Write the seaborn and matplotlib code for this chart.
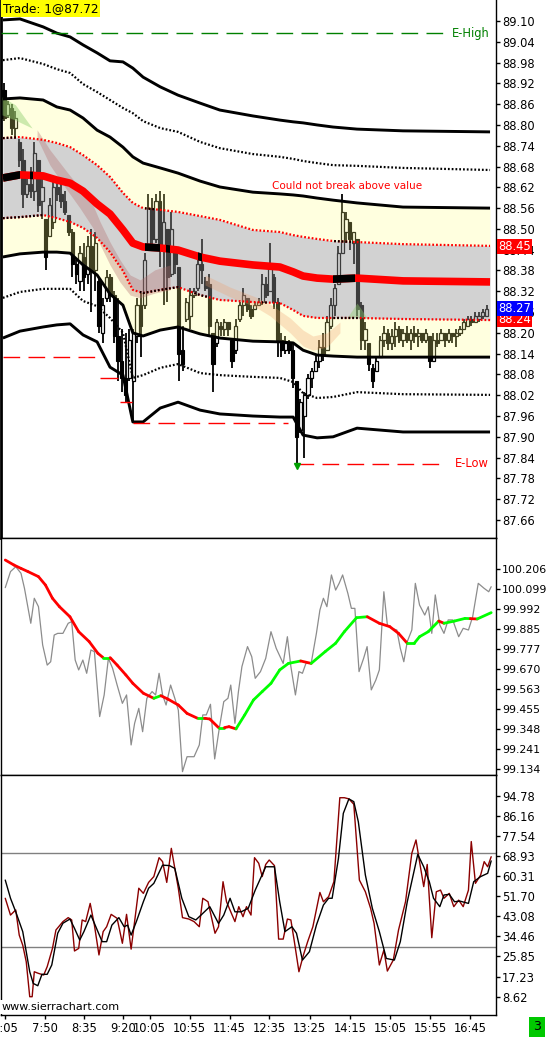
import numpy as np
import matplotlib
matplotlib.use("Agg")
import matplotlib.pyplot as plt
import seaborn as sns
from matplotlib.patches import Rectangle
from matplotlib.collections import LineCollection
from matplotlib.transforms import blended_transform_factory

sns.set_theme(style="white")
plt.rcParams['font.family'] = ['DejaVu Sans']

# ---------------- price candles (one per bar) ----------------
opens = [88.90, 88.83, 88.85, 88.79, 88.75, 88.70, 88.60, 88.63, 88.61, 88.70,
         88.58, 88.53, 88.48, 88.52, 88.62, 88.60, 88.58, 88.54, 88.49, 88.40,
         88.35, 88.42, 88.37, 88.45, 88.38, 88.35, 88.20, 88.30, 88.36, 88.31,
         88.19, 88.12, 88.07, 88.07, 88.06, 88.19, 88.28, 88.28, 88.45, 88.56,
         88.47, 88.58, 88.45, 88.50, 88.37, 88.44, 88.39, 88.15, 88.24, 88.25,
         88.31, 88.33, 88.40, 88.35, 88.34, 88.20, 88.17, 88.22, 88.21, 88.23,
         88.18, 88.15, 88.24, 88.28, 88.30, 88.27, 88.27, 88.28, 88.29, 88.34,
         88.32, 88.36, 88.29, 88.18, 88.15, 88.17, 88.15, 88.06, 87.92, 87.96,
         88.02, 88.07, 88.09, 88.12, 88.16, 88.15, 88.22, 88.28, 88.34, 88.43,
         88.49, 88.52, 88.46, 88.47, 88.28, 88.18, 88.17, 88.10, 88.09, 88.13,
         88.18, 88.20, 88.17, 88.19, 88.21, 88.18, 88.20, 88.18, 88.20, 88.19,
         88.20, 88.18, 88.19, 88.12, 88.18, 88.18, 88.20, 88.18, 88.20, 88.19,
         88.20, 88.21, 88.22, 88.24, 88.23, 88.24, 88.25, 88.25]
highs = [88.92, 88.87, 88.86, 88.84, 88.76, 88.73, 88.65, 88.68, 88.75, 88.70,
         88.66, 88.53, 88.59, 88.64, 88.64, 88.63, 88.61, 88.54, 88.50, 88.41,
         88.45, 88.46, 88.48, 88.50, 88.49, 88.36, 88.30, 88.38, 88.37, 88.32,
         88.30, 88.21, 88.20, 88.21, 88.21, 88.30, 88.32, 88.43, 88.60, 88.59,
         88.60, 88.61, 88.60, 88.50, 88.55, 88.45, 88.39, 88.22, 88.30, 88.33,
         88.33, 88.43, 88.47, 88.36, 88.37, 88.20, 88.24, 88.23, 88.24, 88.23,
         88.18, 88.24, 88.29, 88.33, 88.30, 88.28, 88.29, 88.30, 88.37, 88.36,
         88.46, 88.37, 88.30, 88.20, 88.19, 88.18, 88.17, 88.06, 88.01, 88.03,
         88.08, 88.10, 88.14, 88.18, 88.20, 88.25, 88.30, 88.34, 88.45, 88.60,
         88.55, 88.52, 88.49, 88.47, 88.29, 88.23, 88.17, 88.11, 88.13, 88.19,
         88.22, 88.21, 88.21, 88.23, 88.22, 88.21, 88.22, 88.21, 88.22, 88.21,
         88.20, 88.21, 88.19, 88.20, 88.20, 88.21, 88.20, 88.21, 88.20, 88.21,
         88.22, 88.24, 88.25, 88.25, 88.26, 88.26, 88.27, 88.28]
lows = [88.81, 88.82, 88.77, 88.76, 88.68, 88.56, 88.59, 88.59, 88.58, 88.55,
        88.53, 88.38, 88.48, 88.50, 88.58, 88.56, 88.54, 88.48, 88.36, 88.34,
        88.32, 88.32, 88.34, 88.26, 88.32, 88.20, 88.17, 88.29, 88.29, 88.17,
        88.06, 88.03, 88.00, 88.06, 87.94, 88.17, 88.13, 88.27, 88.45, 88.44,
        88.46, 88.39, 88.28, 88.29, 88.36, 88.37, 88.06, 88.09, 88.23, 88.21,
        88.30, 88.32, 88.34, 88.32, 88.19, 88.03, 88.16, 88.19, 88.19, 88.19,
        88.10, 88.14, 88.23, 88.25, 88.26, 88.24, 88.27, 88.28, 88.28, 88.30,
        88.32, 88.27, 88.13, 88.13, 88.14, 88.14, 88.04, 87.82, 87.91, 87.84,
        88.01, 88.04, 88.09, 88.10, 88.12, 88.15, 88.21, 88.25, 88.34, 88.43,
        88.46, 88.44, 88.40, 88.25, 88.15, 88.15, 88.09, 88.04, 88.09, 88.13,
        88.16, 88.15, 88.15, 88.16, 88.17, 88.16, 88.17, 88.15, 88.17, 88.16,
        88.17, 88.17, 88.10, 88.12, 88.16, 88.18, 88.16, 88.17, 88.17, 88.16,
        88.19, 88.21, 88.22, 88.22, 88.23, 88.23, 88.24, 88.25]
closes = [88.82, 88.86, 88.79, 88.82, 88.70, 88.60, 88.63, 88.61, 88.72, 88.57,
          88.62, 88.42, 88.57, 88.62, 88.60, 88.58, 88.55, 88.49, 88.40, 88.37,
          88.43, 88.36, 88.45, 88.38, 88.46, 88.22, 88.28, 88.36, 88.31, 88.19,
          88.12, 88.07, 88.02, 88.18, 88.20, 88.28, 88.22, 88.41, 88.56, 88.47,
          88.58, 88.45, 88.52, 88.36, 88.50, 88.40, 88.14, 88.11, 88.29, 88.31,
          88.32, 88.40, 88.38, 88.33, 88.22, 88.11, 88.23, 88.21, 88.23, 88.21,
          88.12, 88.22, 88.28, 88.31, 88.27, 88.25, 88.28, 88.29, 88.34, 88.31,
          88.40, 88.29, 88.18, 88.15, 88.17, 88.15, 88.07, 87.90, 88.00, 88.02,
          88.07, 88.09, 88.12, 88.16, 88.14, 88.23, 88.28, 88.33, 88.43, 88.55,
          88.53, 88.47, 88.49, 88.27, 88.18, 88.21, 88.11, 88.06, 88.12, 88.18,
          88.20, 88.17, 88.19, 88.21, 88.18, 88.20, 88.18, 88.20, 88.19, 88.20,
          88.18, 88.20, 88.12, 88.18, 88.17, 88.20, 88.18, 88.20, 88.19, 88.20,
          88.21, 88.23, 88.24, 88.23, 88.25, 88.25, 88.26, 88.27]

# ---------------- VWAP / deviation bands (knots in bar units) ----------------
band_x = [-0.3, 4.2, 10.3, 13.9, 17.4, 20.8, 24.5, 27.9, 31.3, 33.9, 36.6, 41.1,
          45.8, 51.6, 56.8, 65.5, 72.6, 76.1, 78.7, 82.4, 86.6, 92.9, 105.0, 127.9]
up3 = [89.103, 89.106, 89.083, 89.065, 89.054, 89.031, 89.008, 88.985, 88.982, 88.964, 88.938, 88.910,
       88.886, 88.863, 88.843, 88.826, 88.814, 88.809, 88.806, 88.800, 88.794, 88.788, 88.783, 88.780]
up2dot = [88.987, 88.993, 88.976, 88.961, 88.950, 88.918, 88.895, 88.872, 88.849, 88.834, 88.811, 88.791,
          88.780, 88.751, 88.733, 88.716, 88.708, 88.702, 88.696, 88.690, 88.684, 88.682, 88.676, 88.670]
up2 = [88.875, 88.878, 88.872, 88.852, 88.843, 88.820, 88.785, 88.765, 88.736, 88.708, 88.690, 88.676,
       88.661, 88.638, 88.621, 88.606, 88.601, 88.598, 88.595, 88.589, 88.583, 88.575, 88.563, 88.560]
up1 = [88.762, 88.765, 88.757, 88.748, 88.736, 88.713, 88.684, 88.650, 88.604, 88.575, 88.560, 88.555,
       88.549, 88.537, 88.526, 88.497, 88.491, 88.482, 88.477, 88.471, 88.465, 88.462, 88.456, 88.451]
vwap = [88.647, 88.656, 88.653, 88.641, 88.632, 88.609, 88.572, 88.543, 88.497, 88.459, 88.448, 88.445,
        88.439, 88.419, 88.407, 88.396, 88.390, 88.376, 88.364, 88.358, 88.355, 88.358, 88.350, 88.347]
lo1 = [88.531, 88.534, 88.540, 88.531, 88.520, 88.503, 88.474, 88.433, 88.379, 88.324, 88.315, 88.324,
       88.332, 88.309, 88.295, 88.289, 88.286, 88.266, 88.249, 88.243, 88.243, 88.243, 88.240, 88.237]
lo2 = [88.419, 88.428, 88.433, 88.433, 88.430, 88.396, 88.367, 88.312, 88.280, 88.200, 88.191, 88.208,
       88.217, 88.197, 88.185, 88.176, 88.174, 88.171, 88.150, 88.136, 88.133, 88.130, 88.130, 88.130]
lo2dot = [88.301, 88.318, 88.327, 88.327, 88.327, 88.292, 88.277, 88.243, 88.200, 88.070, 88.078, 88.099,
          88.110, 88.084, 88.078, 88.073, 88.070, 88.058, 88.026, 88.012, 88.015, 88.029, 88.023, 88.021]
lo3 = [88.185, 88.205, 88.217, 88.223, 88.226, 88.194, 88.174, 88.101, 88.078, 87.943, 87.943, 87.983,
       88.000, 87.977, 87.966, 87.960, 87.957, 87.957, 87.905, 87.897, 87.900, 87.925, 87.914, 87.914]

vwap_black = [(-0.8, 4.2), (6.8, 7.6), (37.1, 41.1), (42.6, 43.7), (51.0, 52.1), (86.6, 92.4)]
up1_black = [(-0.8, 3.5), (37.1, 39.7), (86.6, 91.8)]
lo1_black = [(-0.8, 10.3), (35.8, 46.3), (49.7, 53.4), (68.0, 69.2), (86.6, 93.7)]

# shaded cloud regions
pink_x = [8.7, 12.1, 16.6, 20.0, 23.4, 25.3, 27.9, 30.5, 33.2, 35.8, 39.7, 43.7]
pink_hi = [88.786, 88.728, 88.664, 88.618, 88.569, 88.520, 88.462, 88.411, 88.367, 88.353, 88.382, 88.396]
pink_lo = [88.762, 88.684, 88.612, 88.560, 88.503, 88.454, 88.396, 88.347, 88.309, 88.301, 88.315, 88.324]
peach_x = [52.9, 59.5, 66.1, 70.0, 75.3, 78.7, 81.3, 85.0, 88.4]
peach_hi = [88.367, 88.332, 88.304, 88.283, 88.243, 88.208, 88.191, 88.200, 88.231]
peach_lo = [88.338, 88.304, 88.275, 88.249, 88.200, 88.162, 88.150, 88.159, 88.200]
green1_x = [-0.5, 3.0, 7.4]
green1_hi = [88.881, 88.858, 88.791]
green1_lo = [88.829, 88.814, 88.791]
green2_x = [90.3, 92.9, 95.5]
green2_hi = [88.244, 88.286, 88.244]
green2_lo = [88.244, 88.244, 88.244]

# ---------------- middle panel ----------------
osc_x = [0.33, 1.71, 3.09, 4.47, 5.39, 7.05, 7.97, 9.07, 10.17, 11.37, 12.29, 13.21, 14.13, 15.51,
         16.89, 17.81, 18.73, 19.65, 20.75, 21.76, 22.87, 23.79, 25.17, 26.36, 27.47, 28.57, 29.77,
         31.15, 32.25, 33.45, 34.37, 35.47, 36.48, 37.59, 38.97, 39.89, 40.81, 41.73, 42.65, 43.84,
         44.95, 45.87, 46.97, 48.17, 50.01, 51.39, 52.31, 53.23, 54.33, 55.44, 56.72, 57.83, 58.93,
         59.67, 60.77, 61.69, 62.61, 64.08, 65.19, 66.11, 67.49, 68.87, 70.25, 71.63, 73.47, 74.57,
         75.49, 76.69, 77.61, 78.53, 79.45, 80.83, 82.21, 83.13, 84.05, 84.97, 86.16, 87.27, 88.19,
         89.11, 90.49, 91.41, 92.33, 93.43, 94.63, 95.55, 96.65, 97.85, 98.77, 99.96, 100.88, 101.98,
         103.37, 104.29, 105.21, 106.12, 107.32, 108.24, 109.35, 110.72, 111.65, 112.57, 113.49,
         114.68, 115.78, 116.89, 118.08, 119.65, 120.84, 122.22, 123.33, 124.80, 126.36, 127.56, 128.2]
osc_val = [100.106, 100.192, 100.218, 100.183, 100.102, 99.915, 100.049, 100.004, 99.799, 99.691,
           99.709, 99.852, 99.861, 99.861, 99.915, 99.924, 99.718, 99.665, 99.718, 99.647, 99.772,
           99.763, 99.415, 99.531, 99.727, 99.674, 99.584, 99.486, 99.531, 99.263, 99.379, 99.459,
           99.334, 99.513, 99.549, 99.531, 99.647, 99.531, 99.477, 99.584, 99.513, 99.450, 99.120,
           99.200, 99.200, 99.263, 99.424, 99.424, 99.481, 99.188, 99.361, 99.495, 99.513, 99.584,
           99.379, 99.549, 99.683, 99.790, 99.736, 99.620, 99.656, 99.727, 99.870, 99.781, 99.700,
           99.843, 99.683, 99.531, 99.656, 99.647, 99.700, 99.700, 99.861, 99.986, 100.049, 100.004,
           100.174, 100.093, 100.129, 100.174, 100.075, 99.995, 99.995, 99.656, 99.727, 99.790, 99.558,
           99.611, 99.665, 100.084, 99.906, 99.888, 99.879, 99.781, 99.709, 99.817, 99.879, 100.129,
           100.013, 99.959, 100.004, 99.861, 100.067, 99.906, 99.861, 99.933, 99.933, 99.843, 99.888,
           99.879, 99.950, 100.129, 100.102, 100.084, 100.111]
ma_x = [0.33, 2.63, 4.47, 6.31, 9.07, 10.91, 12.75, 14.59, 17.35, 19.65, 22.41, 24.71, 26.09, 27.93,
        29.77, 32.07, 33.91, 36.67, 39.43, 41.27, 43.11, 45.87, 48.17, 50.93, 52.77, 54.15, 56.45,
        58.0, 59.21, 61.05, 63.35, 65.65, 67.95, 70.25, 72.55, 74.85, 78.07, 80.83, 84.51, 87.27,
        89.56, 92.78, 95.6, 98.77, 101.52, 103.82, 106.12, 107.96, 109.35, 111.65, 114.41, 115.78,
        118.55, 121.30, 122.7, 124.52, 128.2]
ma_val = [100.254, 100.227, 100.209, 100.192, 100.165, 100.120, 100.049, 100.004, 99.950, 99.870,
          99.817, 99.754, 99.731, 99.731, 99.691, 99.638, 99.593, 99.540, 99.513, 99.527, 99.509,
          99.477, 99.432, 99.406, 99.406, 99.402, 99.356, 99.356, 99.361, 99.349, 99.424, 99.504,
          99.549, 99.593, 99.665, 99.700, 99.713, 99.700, 99.763, 99.808, 99.870, 99.945, 99.950,
          99.915, 99.897, 99.861, 99.808, 99.808, 99.843, 99.870, 99.927, 99.915, 99.927, 99.941,
          99.940, 99.938, 99.972]
ma_dir = ['r'] * 12 + ['g', 'r', 'r', 'r', 'r', 'r', 'g', 'r', 'r', 'r', 'r', 'g', 'r', 'r', 'g', 'r',
          'r'] + ['g'] * 6 + ['g', 'r'] + ['g'] * 5 + ['r', 'r', 'r', 'r'] + ['g'] * 4 + ['r', 'g', 'g',
          'g', 'r', 'g', 'g']

# ---------------- stochastic panel ----------------
stk_x = [0.33, 1.71, 3.09, 4.01, 4.93, 5.85, 6.77, 7.41, 7.97, 9.07, 10.45, 11.37, 12.75, 13.67, 15.51,
         16.89, 17.81, 18.55, 19.65, 20.57, 21.49, 22.68, 23.79, 24.99, 26.09, 27.01, 28.20, 29.77,
         31.15, 32.25, 33.45, 34.37, 35.47, 36.67, 38.05, 39.43, 40.81, 41.73, 42.83, 44.03, 44.95,
         45.87, 46.97, 48.63, 50.01, 51.39, 52.31, 53.69, 55.53, 56.45, 57.64, 58.56, 59.67, 60.77,
         61.78, 62.89, 63.81, 65.0, 65.92, 67.03, 67.95, 68.87, 69.79, 71.17, 72.27, 73.47, 74.57,
         75.49, 76.41, 77.61, 78.80, 79.91, 81.28, 83.13, 84.05, 85.43, 86.81, 88.37, 89.57, 90.76,
         92.05, 93.52, 95.09, 96.47, 97.39, 98.77, 99.96, 100.88, 102.44, 103.82, 105.66, 107.32,
         108.42, 109.35, 110.45, 111.37, 112.57, 113.76, 114.87, 115.78, 117.17, 118.36, 119.65,
         120.84, 122.22, 122.96, 124.06, 125.44, 126.36, 127.28, 128.2]
stk_k = [50.8, 43.6, 45.8, 35.0, 30.7, 23.6, 8.6, 8.6, 19.3, 18.6, 17.9, 21.5, 29.3, 37.2, 40.8, 42.5,
         41.5, 28.2, 29.3, 41.5, 40.8, 48.6, 39.3, 26.5, 36.5, 38.6, 43.9, 42.2, 31.5, 43.9, 29.0, 40.8,
         55.1, 52.9, 57.6, 60.1, 68.2, 66.5, 57.6, 72.2, 63.6, 55.1, 42.5, 41.9, 40.8, 38.6, 50.8, 49.3,
         35.8, 38.6, 57.9, 49.3, 45.0, 40.8, 47.2, 42.9, 47.2, 43.6, 68.2, 65.8, 60.1, 65.3, 67.2, 64.8,
         33.3, 33.3, 41.9, 41.5, 32.2, 19.3, 26.5, 32.2, 38.6, 53.3, 49.3, 51.5, 57.9, 93.9, 93.9, 93.4,
         91.1, 58.6, 53.6, 46.5, 40.0, 22.2, 28.6, 19.6, 24.3, 37.2, 49.3, 70.1, 75.8, 66.5, 55.8, 65.3,
         33.9, 53.6, 54.3, 50.8, 52.9, 47.2, 50.0, 47.2, 54.3, 75.1, 57.2, 60.8, 66.5, 64.3, 68.6]
std_x = [0.33, 1.71, 3.09, 4.93, 6.77, 7.69, 8.89, 9.99, 11.37, 12.57, 14.13, 15.51, 17.35, 18.55,
         19.93, 21.03, 22.87, 24.71, 25.82, 27.01, 28.39, 30.23, 31.61, 32.53, 33.45, 34.83, 36.67,
         38.05, 39.43, 41.73, 43.57, 44.95, 46.79, 48.63, 50.47, 51.85, 54.15, 56.45, 57.83, 59.49,
         60.77, 62.43, 64.27, 66.11, 68.87, 71.17, 72.55, 73.93, 75.77, 76.97, 78.53, 80.37, 82.21,
         84.05, 85.43, 86.35, 88.01, 89.29, 90.76, 92.05, 93.24, 95.09, 96.93, 98.77, 100.61, 102.72,
         104.29, 106.12, 108.88, 110.45, 111.92, 113.03, 114.68, 115.78, 117.17, 118.55, 119.93,
         122.22, 123.60, 125.44, 126.36, 127.28, 128.2]
std_d = [58.6, 50.8, 45.0, 36.5, 19.3, 14.3, 13.3, 18.2, 18.2, 22.2, 35.8, 40.1, 41.9, 37.9, 32.9,
         36.5, 43.6, 36.5, 32.2, 32.2, 39.3, 42.5, 38.6, 39.3, 35.0, 40.8, 49.3, 55.1, 57.2, 65.0, 64.8,
         63.6, 50.8, 42.9, 41.5, 43.6, 47.2, 40.0, 43.6, 50.8, 45.0, 45.0, 46.5, 54.3, 64.3, 64.3, 49.3,
         36.5, 38.6, 35.8, 24.3, 27.9, 39.3, 47.9, 50.8, 50.8, 67.9, 87.2, 93.4, 92.2, 83.6, 60.8, 46.5,
         36.5, 25.0, 24.3, 32.2, 49.3, 69.6, 64.3, 57.9, 50.8, 47.2, 52.2, 52.5, 49.3, 49.6, 48.6, 57.9,
         60.1, 60.8, 61.5, 66.8]

time_ticks = [0.3, 10.7, 21.0, 31.4, 38.3, 48.9, 59.4, 69.8, 80.4, 91.0, 101.6, 112.1, 122.7]
time_labels = ['7:05', '7:50', '8:35', '9:20', '10:05', '10:55', '11:45', '12:35', '13:25',
               '14:15', '15:05', '15:55', '16:45']
price_ticks = [89.10, 89.04, 88.98, 88.92, 88.86, 88.80, 88.74, 88.68, 88.62, 88.56, 88.50, 88.44,
               88.38, 88.32, 88.26, 88.20, 88.14, 88.08, 88.02, 87.96, 87.90, 87.84, 87.78, 87.72, 87.66]
osc_ticks = [100.206, 100.099, 99.992, 99.885, 99.777, 99.670, 99.563, 99.455, 99.348, 99.241, 99.134]
stoch_ticks = [94.78, 86.16, 77.54, 68.93, 60.31, 51.70, 43.08, 34.46, 25.85, 17.23, 8.62]

# ---------------- layout ----------------
W, H = 547, 1037
fig = plt.figure(figsize=(W / 100, H / 100), dpi=100)
fig.patch.set_facecolor('white')


def axpos(x0, y0, x1, y1):
    return [x0 / W, 1 - y1 / H, (x1 - x0) / W, (y1 - y0) / H]


ax1 = fig.add_axes(axpos(1, 0, 496, 538))
ax2 = fig.add_axes(axpos(1, 538, 496, 775))
ax3 = fig.add_axes(axpos(1, 775, 496, 1015))
XL = (-0.79, 129.47)
FS = 8.3

for ax in (ax1, ax2, ax3):
    ax.set_facecolor('white')
    ax.set_xlim(*XL)
    ax.yaxis.tick_right()
    ax.tick_params(axis='y', which='both', direction='out', length=3, width=1, pad=1.5,
                   labelsize=FS, colors='black', right=True, left=False)
    ax.tick_params(axis='x', bottom=False, labelbottom=False)
    for s in ax.spines.values():
        s.set_color('black')
        s.set_linewidth(1.0)
    ax.grid(False)
ax1.spines['top'].set_visible(False)
ax1.spines['left'].set_linewidth(2.0)

# ---------------- top panel ----------------
ax1.set_ylim(87.608, 89.1606)
bx = np.arange(len(closes))
o = np.array(opens); c = np.array(closes); hi = np.array(highs); lo = np.array(lows)
up = c >= o
ax1.vlines(bx, lo, hi, color='black', lw=1.3, zorder=2)
body_bot = np.minimum(o, c)
body_h = np.maximum(np.abs(c - o), 0.004)
ax1.bar(bx[~up], body_h[~up], bottom=body_bot[~up], width=0.8, color='black',
        edgecolor='black', lw=0.8, zorder=2.1)
ax1.bar(bx[up], body_h[up], bottom=body_bot[up], width=0.8, color='white',
        edgecolor='black', lw=0.9, zorder=2.1)

# translucent value regions drawn over the bars
ax1.fill_between(band_x, up2, up1, color=(1, 1, 0.5), alpha=0.25, lw=0, zorder=3)
ax1.fill_between(band_x, lo1, lo2, color=(1, 1, 0.5), alpha=0.25, lw=0, zorder=3)
ax1.fill_between(band_x, up1, lo1, color=(0.573, 0.573, 0.573), alpha=0.41, lw=0, zorder=3)
ax1.fill_between(pink_x, pink_lo, pink_hi, color='#b46e6e', alpha=0.35, lw=0, zorder=3.2)
ax1.fill_between(peach_x, peach_lo, peach_hi, color='#f09a66', alpha=0.28, lw=0, zorder=3.2)
ax1.fill_between(green1_x, green1_lo, green1_hi, color='#90d070', alpha=0.45, lw=0, zorder=3.2)
ax1.fill_between(green2_x, green2_lo, green2_hi, color='#90d070', alpha=0.40, lw=0, zorder=3.2)

dot = (0, (0.8, 0.9))
for yv in (up3, up2, lo2, lo3):
    ax1.plot(band_x, yv, color='black', lw=2.1, zorder=4, solid_capstyle='butt')
for yv in (up2dot, lo2dot):
    ax1.plot(band_x, yv, color='black', lw=1.6, ls=dot, zorder=4)


def black_spans(ax, xs, ys, spans, **kw):
    for a, b in spans:
        ln, = ax.plot(xs, ys, color='black', **kw)
        ln.set_clip_path(Rectangle((a, 80), b - a, 40, transform=ax.transData))


ax1.plot(band_x, up1, color='red', lw=1.6, ls=dot, zorder=4)
black_spans(ax1, band_x, up1, up1_black, lw=1.6, ls=dot, zorder=4.1)
ax1.plot(band_x, lo1, color='red', lw=1.6, ls=dot, zorder=4)
black_spans(ax1, band_x, lo1, lo1_black, lw=1.6, ls=dot, zorder=4.1)
ax1.plot(band_x, vwap, color='red', lw=5.5, zorder=4.5, solid_capstyle='butt')
black_spans(ax1, band_x, vwap, vwap_black, lw=5.5, zorder=4.6, solid_capstyle='butt')

# reference levels
ax1.hlines(89.065, -0.8, 116.3, colors='#008000', lw=1.0, linestyles=(0, (12, 6)), zorder=4)
ax1.text(117.9, 89.065, 'E-High', color='#008000', fontsize=FS, ha='left', va='center', zorder=6)
ax1.hlines(87.822, 77.0, 116.3, colors='red', lw=1.0, linestyles=(0, (12, 6)), zorder=4)
ax1.text(118.7, 87.822, 'E-Low', color='red', fontsize=FS, ha='left', va='center', zorder=6)
ax1.hlines(88.130, -0.3, 24.0, colors='red', lw=1.0, linestyles=(0, (12, 6)), zorder=4)
ax1.hlines(88.070, 25.3, 30.0, colors='red', lw=1.0, zorder=4)
ax1.hlines(88.001, 30.5, 33.7, colors='red', lw=1.0, zorder=4)
ax1.hlines(87.941, 34.0, 74.7, colors='red', lw=1.0, linestyles=(0, (12, 6)), zorder=4)
ax1.plot([77], [87.816], marker='v', color='#00a000', ms=5, zorder=6)

ax1.text(70.6, 88.624, 'Could not break above value', color='red', fontsize=7.5,
         ha='left', va='center', zorder=6)
ax1.text(2 / 495, 1 - 8.5 / 538, 'Trade: 1@87.72', transform=ax1.transAxes, fontsize=8.7,
         ha='left', va='center', color='black', zorder=7,
         bbox=dict(boxstyle='square,pad=0.14', fc='#ffff00', ec='none'))

ax1.set_yticks(price_ticks)
ax1.set_yticklabels([f'{v:.2f}' for v in price_ticks])
tr = blended_transform_factory(ax1.transAxes, ax1.transData)
for val, col in ((88.45, 'red'), (88.24, 'red'), (88.27, 'blue')):
    ax1.text(1.0 + 2.5 / 495, val, f'{val:.2f}', transform=tr, fontsize=FS, color='white',
             ha='left', va='center', zorder=8, clip_on=False,
             bbox=dict(boxstyle='square,pad=0.1', fc=col, ec='none'))

# ---------------- middle panel ----------------
ax2.set_ylim(99.102, 100.372)
sns.lineplot(x=osc_x, y=osc_val, ax=ax2, color='#8c8c8c', lw=0.9, sort=False, estimator=None,
             zorder=3)
pts = np.column_stack([ma_x, ma_val])
segs = np.stack([pts[:-1], pts[1:]], axis=1)
cols = ['#ff0000' if d == 'r' else '#00ff00' for d in ma_dir[:len(segs)]]
ax2.add_collection(LineCollection(segs, colors=cols, linewidths=2.0, zorder=4, capstyle='round'))
ax2.set_yticks(osc_ticks)
ax2.set_yticklabels([f'{v:.3f}' for v in osc_ticks])
ax2.tick_params(axis='y', labelsize=7.9, pad=1.2)
ax2.set_xlim(*XL)

# ---------------- stochastic panel ----------------
ax3.set_ylim(0.76, 103.64)
ax3.axhline(70, color='#808080', lw=1.0, zorder=2)
ax3.axhline(30, color='#808080', lw=1.0, zorder=2)
sns.lineplot(x=stk_x, y=stk_k, ax=ax3, color='#8b0000', lw=1.0, sort=False, estimator=None, zorder=3)
sns.lineplot(x=std_x, y=std_d, ax=ax3, color='black', lw=1.0, sort=False, estimator=None, zorder=4)
ax3.set_yticks(stoch_ticks)
ax3.set_yticklabels([f'{v:.2f}' for v in stoch_ticks])
ax3.set_xlim(*XL)
ax3.set_xticks(time_ticks)
ax3.set_xticklabels(time_labels)
ax3.tick_params(axis='x', bottom=True, labelbottom=True, direction='out', length=3, width=1,
                pad=2, labelsize=FS, colors='black')
for ax in (ax1, ax2, ax3):
    ax.set_xlabel('')
    ax.set_ylabel('')

ax3.text(1 / 495, 1 - 232 / 240, 'www.sierrachart.com', transform=ax3.transAxes, fontsize=8.0,
         ha='left', va='center', color='black', zorder=10, clip_on=False,
         bbox=dict(boxstyle='square,pad=0.15', fc='white', ec='none'))

fig.text(537 / W, 1 - 1027 / H, '3', fontsize=9, ha='center', va='center', color='black',
         bbox=dict(boxstyle='square,pad=0.3', fc='#00c800', ec='none'))

fig.savefig('out.png', dpi=100, facecolor='white')
